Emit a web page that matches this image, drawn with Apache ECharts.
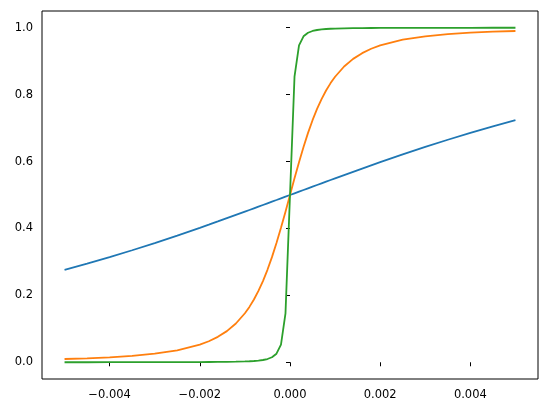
<!DOCTYPE html>
<html>
<head>
<meta charset="utf-8">
<script src="https://cdn.jsdelivr.net/npm/echarts@6/dist/echarts.min.js"></script>
<style>
html,body{margin:0;padding:0;background:#fff;}
#chart{width:547px;height:413px;}
</style>
</head>
<body>
<div id="chart"></div>
<script>
// x positions of the sampled points
var xValues = [-0.005,-0.0045,-0.004,-0.0035,-0.003,-0.0025,-0.002,-0.0018,-0.0016,-0.0014,-0.0012,-0.001,-0.0009,-0.0008,-0.0007,-0.0006,-0.0005,-0.0004,-0.0003,-0.0002,-0.0001,0,
  0.0001,0.0002,0.0003,0.0004,0.0005,0.0006,0.0007,0.0008,0.0009,0.001,0.0012,0.0014,0.0016,0.0018,0.002,0.0025,0.003,0.0035,0.004,0.0045,0.005];

var blueValues = [0.27639,0.29482,0.3143,0.33482,0.35633,0.37873,0.40194,0.41142,0.421,0.43068,0.44043,0.45025,0.45518,0.46013,0.46509,0.47005,0.47503,0.48002,0.48501,0.49001,0.495,0.5,
  0.505,0.50999,0.51499,0.51998,0.52497,0.52995,0.53491,0.53987,0.54482,0.54975,0.55957,0.56932,0.579,0.58858,0.59806,0.62127,0.64367,0.66518,0.6857,0.70518,0.72361];

var orangeValues = [0.00971,0.0119,0.01493,0.01923,0.02566,0.03576,0.05279,0.06292,0.076,0.09313,0.11589,0.14645,0.16552,0.18765,0.21327,0.24275,0.27639,0.3143,0.35633,0.40194,0.45025,0.5,
  0.54975,0.59806,0.64367,0.6857,0.72361,0.75725,0.78673,0.81235,0.83448,0.85355,0.88411,0.90687,0.924,0.93708,0.94721,0.96424,0.97434,0.98077,0.98507,0.9881,0.99029];

var greenValues = [0.0001,0.00012,0.00016,0.0002,0.00028,0.0004,0.00062,0.00077,0.00097,0.00127,0.00173,0.00248,0.00306,0.00386,0.00503,0.0068,0.00971,0.01493,0.02566,0.05279,0.14645,0.5,
  0.85355,0.94721,0.97434,0.98507,0.99029,0.9932,0.99497,0.99614,0.99694,0.99752,0.99827,0.99873,0.99903,0.99923,0.99938,0.9996,0.99972,0.9998,0.99984,0.99988,0.9999];

var xTicks = [-0.004,-0.002,0,0.002,0.004];
var xTickLabels = ['\u22120.004','\u22120.002','0.000','0.002','0.004'];
var yTicks = [0,0.2,0.4,0.6,0.8,1.0];
var yTickLabels = ['0.0','0.2','0.4','0.6','0.8','1.0'];

var seriesNames = ['blue','orange','green'];
var seriesColors = ['#1f77b4','#ff7f0e','#2ca02c'];
var seriesValues = [blueValues, orangeValues, greenValues];

function pairs(ys){
  return xValues.map(function(x,i){ return [x, ys[i]]; });
}
function labelFor(ticks, labels){
  return function(v){
    for (var i=0;i<ticks.length;i++){ if (Math.abs(ticks[i]-v) < 1e-9) return labels[i]; }
    return '';
  };
}

var chart = echarts.init(document.getElementById('chart'), null, {renderer:'canvas'});
chart.setOption({
  animation:false,
  backgroundColor:'#ffffff',
  grid:{left:42, right:9, top:11, bottom:34, show:true, borderColor:'#000', borderWidth:1, backgroundColor:'transparent', containLabel:false, outerBoundsMode:'none'},
  xAxis:{
    type:'value', min:-0.0055, max:0.0055,
    axisLine:{show:false},
    splitLine:{show:false},
    axisTick:{show:true, customValues:xTicks, length:4, lineStyle:{color:'#000', width:1}},
    axisLabel:{show:true, customValues:xTicks, formatter:labelFor(xTicks,xTickLabels), color:'#000', fontSize:11.5, fontFamily:'DejaVu Sans', margin:10}
  },
  yAxis:{
    type:'value', min:-0.05, max:1.05,
    axisLine:{show:false},
    splitLine:{show:false},
    axisTick:{show:true, customValues:yTicks, length:4, lineStyle:{color:'#000', width:1}},
    axisLabel:{show:true, customValues:yTicks, formatter:labelFor(yTicks,yTickLabels), color:'#000', fontSize:11.5, fontFamily:'DejaVu Sans', margin:9}
  },
  series: seriesNames.map(function(n,i){
    return {
      name:n, type:'line', data:pairs(seriesValues[i]),
      showSymbol:false, symbol:'none', smooth:false,
      lineStyle:{color:seriesColors[i], width:1.8},
      itemStyle:{color:seriesColors[i]},
      z: 2+i
    };
  })
});
</script>
</body>
</html>
